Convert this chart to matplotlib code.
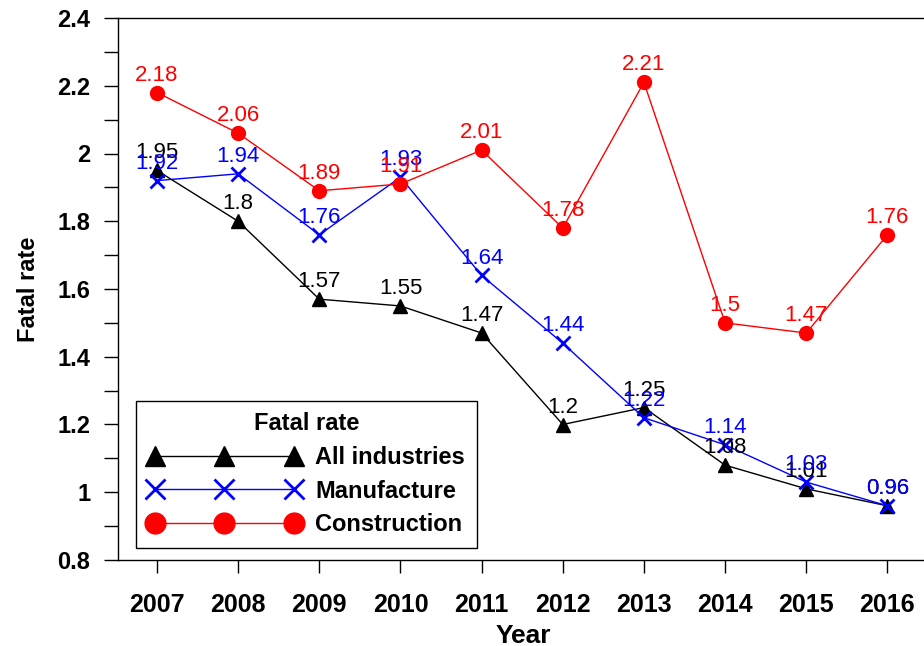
import matplotlib
matplotlib.use("Agg")
import matplotlib.pyplot as plt
from matplotlib.ticker import MultipleLocator

plt.rcParams['font.family'] = ['Liberation Sans', 'DejaVu Sans']

# data
years = [2007, 2008, 2009, 2010, 2011, 2012, 2013, 2014, 2015, 2016]
all_industries = [1.95, 1.8, 1.57, 1.55, 1.47, 1.2, 1.25, 1.08, 1.01, 0.96]
manufacture = [1.92, 1.94, 1.76, 1.93, 1.64, 1.44, 1.22, 1.14, 1.03, 0.96]
construction = [2.18, 2.06, 1.89, 1.91, 2.01, 1.78, 2.21, 1.5, 1.47, 1.76]

fig = plt.figure(figsize=(9.24, 6.46), dpi=100)
ax = fig.add_axes([118/924, 1 - 560/646, (928 - 118)/924, (560 - 18)/646])

series = [
    (all_industries, "All industries", "black", "^"),
    (manufacture, "Manufacture", "blue", "x"),
    (construction, "Construction", "red", "o"),
]

for vals, name, col, mk in series:
    ax.plot(years, vals, color=col, marker=mk, markersize=10,
            markeredgewidth=2 if mk == "x" else 1, lw=1, label=name)
    for x, y in zip(years, vals):
        ax.annotate("%g" % y, (x, y), xytext=(0, 5), textcoords="offset points",
                    ha="center", va="bottom", color=col, fontsize=16)

ax.set_xlim(2006.52, 2016.5)
ax.set_ylim(0.8, 2.4)
ax.set_xticks(years)
ax.yaxis.set_major_locator(MultipleLocator(0.2))
ax.yaxis.set_minor_locator(MultipleLocator(0.1))
ax.yaxis.set_major_formatter(matplotlib.ticker.FuncFormatter(lambda v, p: "%g" % round(v, 2)))

ax.tick_params(axis="x", which="major", direction="out", length=9.5, width=1,
               pad=14, labelsize=18)
ax.tick_params(axis="y", which="both", direction="out", length=10, width=1,
               pad=10, labelsize=17)
for lab in ax.get_xticklabels() + ax.get_yticklabels():
    lab.set_fontweight("bold")

ax.spines["right"].set_visible(False)
for s in ["left", "bottom", "top"]:
    ax.spines[s].set_linewidth(1)

ax.set_xlabel("Year", fontsize=19, fontweight="bold", labelpad=5)
ax.set_ylabel("Fatal rate", fontsize=17, fontweight="bold", labelpad=12)

leg = ax.legend(loc="lower left", bbox_to_anchor=(0.022, 0.022), borderaxespad=0,
                title="Fatal rate", numpoints=3, markerscale=1.5, handlelength=6.5,
                fancybox=False, edgecolor="black", framealpha=1,
                prop={"size": 17, "weight": "bold"}, labelspacing=0.45,
                handletextpad=0.6, borderpad=0.5)
leg.get_title().set_fontweight("bold")
leg.get_title().set_fontsize(17)
leg.get_frame().set_linewidth(1)

fig.savefig("out.png", dpi=100)
